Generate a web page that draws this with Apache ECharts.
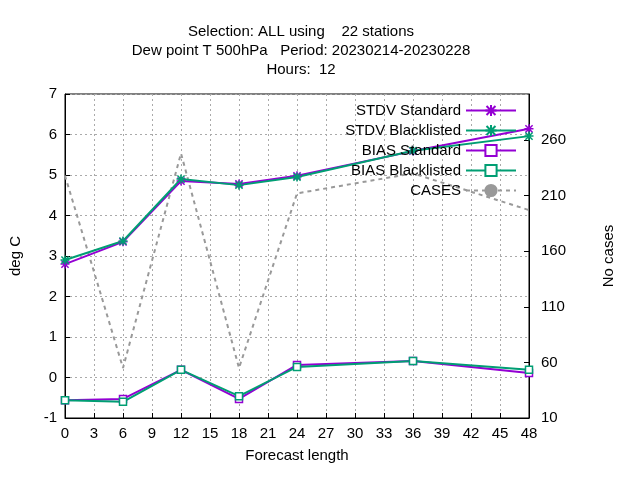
<!DOCTYPE html>
<html><head><meta charset="utf-8">
<script src="https://cdn.jsdelivr.net/npm/echarts@6/dist/echarts.min.js"></script>
<style>html,body{margin:0;padding:0;background:#fff}#c{width:640px;height:480px}</style>
</head><body><div id="c"></div>
<script>
const hours = [0, 6, 12, 18, 24, 36, 48];
const stdvStandard = [2.80, 3.35, 4.85, 4.78, 4.98, 5.59, 6.14];
const stdvBlacklisted = [2.90, 3.37, 4.90, 4.75, 4.95, 5.60, 5.96];
const biasStandard = [-0.56, -0.53, 0.19, -0.53, 0.31, 0.41, 0.11];
const biasBlacklisted = [-0.56, -0.60, 0.19, -0.46, 0.26, 0.41, 0.19];
const cases = [228, 55, 248, 55, 212, 230, 197];
const titleLines = ['Selection: ALL using    22 stations', 'Dew point T 500hPa   Period: 20230214-20230228', 'Hours:  12'];
const font = 'Liberation Sans';
const purple = '#9400d3', green = '#009e73';
const star = 'path://M0,-5L0,5M-5,0L5,0M-4,-4L4,4M-4,4L4,-4';
const pair = a => hours.map((h, i) => [h, a[i]]);
function ser(name, data, color, symbol, yIndex, dashed) {
  const hollow = symbol === 'rect';
  return { name, type: 'line', data: pair(data), yAxisIndex: yIndex || 0,
    symbol: symbol || 'none', symbolSize: hollow ? 7 : 9, showSymbol: !!symbol,
    lineStyle: { color, width: 2, type: dashed ? [4, 4] : 'solid' },
    itemStyle: { color: hollow ? '#fff' : color, borderColor: color, borderWidth: 1.5 },
    color, z: dashed ? 1 : 3 };
}
const chart = echarts.init(document.getElementById('c'));
chart.setOption({
  animation: false,
  textStyle: { fontFamily: font },
  title: { text: titleLines.join('\n'), left: 296, textAlign: 'center', top: 17,
    textStyle: { fontSize: 15, fontWeight: 'normal', color: '#000', lineHeight: 19, fontFamily: font } },
  grid: { left: 64, right: 111, top: 94, bottom: 62, show: true, borderColor: '#000', borderWidth: 1, backgroundColor: 'transparent' },
  legend: { orient: 'vertical', right: 118, top: 98, align: 'right', itemGap: 5, itemWidth: 50, itemHeight: 14,
    textStyle: { fontSize: 15, color: '#000', fontFamily: font },
    data: ['STDV Standard', 'STDV Blacklisted', 'BIAS Standard', 'BIAS Blacklisted', 'CASES'] },
  xAxis: { type: 'value', min: 0, max: 48, interval: 3, name: 'Forecast length', nameLocation: 'middle', nameGap: 30,
    nameTextStyle: { fontSize: 15, color: '#000' },
    axisLine: { onZero: false, lineStyle: { color: '#000' } }, axisTick: { inside: true, lineStyle: { color: '#000' } },
    axisLabel: { fontSize: 15, color: '#000' },
    splitLine: { show: true, lineStyle: { color: '#aaa', type: [2, 3] } } },
  yAxis: [
    { type: 'value', min: -1, max: 7, interval: 1, name: 'deg C', nameLocation: 'middle', nameGap: 42,
      nameTextStyle: { fontSize: 15, color: '#000' },
      axisLine: { show: true, onZero: false, lineStyle: { color: '#000' } }, axisTick: { inside: true, lineStyle: { color: '#000' } },
      axisLabel: { fontSize: 15, color: '#000' },
      splitLine: { show: true, lineStyle: { color: '#aaa', type: [2, 3] } } },
    { type: 'value', min: 10, max: 301.4, interval: 50, name: 'No cases', nameLocation: 'middle', nameGap: 72,
      nameTextStyle: { fontSize: 15, color: '#000' },
      axisLine: { show: true, onZero: false, lineStyle: { color: '#000' } }, axisTick: { inside: true, lineStyle: { color: '#000' } },
      axisLabel: { fontSize: 15, color: '#000', showMaxLabel: false, margin: 12 }, splitLine: { show: false } }
  ],
  series: [
    ser('STDV Standard', stdvStandard, purple, star),
    ser('STDV Blacklisted', stdvBlacklisted, green, star),
    ser('BIAS Standard', biasStandard, purple, 'rect'),
    ser('BIAS Blacklisted', biasBlacklisted, green, 'rect'),
    ser('CASES', cases, '#999', null, 1, true)
  ]
});
</script></body></html>
